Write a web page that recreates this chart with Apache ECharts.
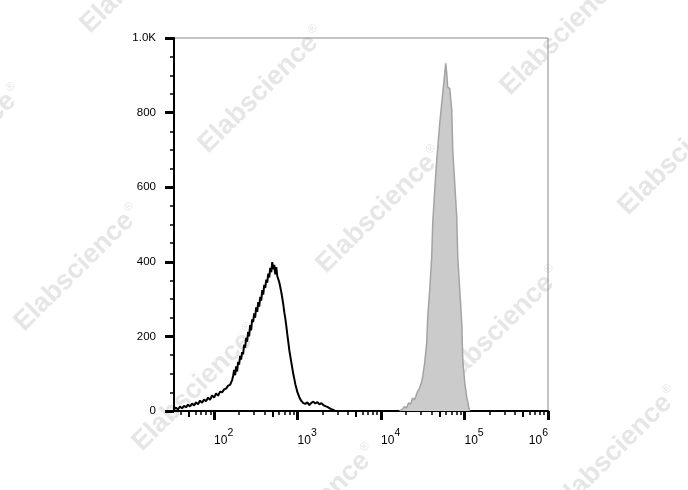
<!DOCTYPE html>
<html>
<head>
<meta charset="utf-8">
<script src="https://cdn.jsdelivr.net/npm/echarts@6/dist/echarts.min.js"></script>
<style>
html,body{margin:0;padding:0;background:#fff;}
#c{width:688px;height:490px;}
</style>
</head>
<body>
<div id="c"></div>
<script>
// ---- Data (x in log10 fluorescence units, y = cell counts) ----
var negLogFL = [1.520,1.544,1.568,1.592,1.616,1.640,1.664,1.688,1.712,1.736,1.760,1.784,1.808,1.832,1.856,1.880,1.904,1.928,1.952,1.976,2.000,2.024,2.048,2.072,2.096,2.120,2.144,2.168,2.192,2.216,
2.228,2.240,2.252,2.264,2.276,2.288,2.300,2.312,2.324,2.336,2.348,2.360,2.372,2.384,2.396,2.408,2.420,2.432,2.444,2.456,2.468,2.480,2.492,2.504,2.517,2.529,2.541,2.553,2.565,2.577,2.589,2.601,2.613,2.625,2.637,2.649,2.661,2.673,2.685,2.697,2.709,2.721,2.733,2.745,2.757,2.769,2.781,2.793,2.805,2.817,2.829,2.841,2.853,2.865,2.877,2.889,2.901,2.913,2.925,2.937,2.949,2.961,2.973,2.985,2.997,
3.021,3.045,3.069,3.093,3.117,3.141,3.165,3.189,3.213,3.237,3.261,3.285,3.309,3.333,3.357,3.381,3.405,3.429,3.453];
var negCounts = [5,9,4,12,7,14,10,17,12,20,15,23,18,28,22,31,26,36,30,42,36,47,41,52,50,58,60,68,70,83,
94,110,96,120,106,132,124,148,138,158,152,178,170,196,186,212,200,230,216,246,238,262,250,278,266,292,280,306,296,324,312,338,330,352,344,368,358,384,372,399,380,392,366,386,362,366,345,340,319,303,286,265,249,228,206,185,163,147,131,115,99,86,72,62,51,
37,27,21,19,23,16,22,25,20,24,18,21,16,13,11,8,5,3,0];

var posLogFL = [4.222,4.258,4.282,4.306,4.330,4.354,4.378,4.402,4.438,4.462,4.486,4.498,4.522,4.547,4.559,4.583,4.607,4.619,4.643,4.667,4.703,4.727,4.751,4.775,4.787,4.799,4.823,4.847,4.859,4.883,4.907,4.919,4.943,4.967,4.979,5.003,5.027,5.051,5.063];
var posCounts = [0,5,12,8,22,18,35,30,52,62,78,91,128,182,252,324,412,503,592,672,771,825,878,932,905,868,865,806,699,610,519,412,324,236,137,75,37,10,0];

var xMajorDecades = [2,3,4,5,6];
var yTicks = [0,200,400,600,800,1000];
var yTickLabels = ['0','200','400','600','800','1.0K'];

// ---- build ----
function pairs(xs, ys){ var out=[]; for (var i=0;i<xs.length;i++) out.push([xs[i], ys[i]]); return out; }
var xMin = 1.52, xMax = 6;
var minorTicks = [], fiveTicks = [];
for (var d=1; d<6; d++) {
  for (var k=2; k<=9; k++) {
    var v = d + Math.log10(k);
    if (v <= xMin || v >= xMax) continue;
    if (k === 5) fiveTicks.push(v); else minorTicks.push(v);
  }
}
var FONT = 'Liberation Sans, Arial, sans-serif';

// watermark lattice (decoration)
var wm = [];
for (var i=-3;i<=5;i++){
  for (var j=-3;j<=3;j++){
    var cx = 262 + i*118 + j*184, cy = 90 + i*120 - j*178;
    if (cx < -130 || cx > 820 || cy < -130 || cy > 620) continue;
    wm.push({
      type:'text', x:cx, y:cy, rotation: 0.78, z: -10, silent:true,
      style:{ text:'{a|Elabscience}{r|®}', align:'center', verticalAlign:'middle',
        rich:{ a:{fontSize:27, fontWeight:'bold', fontFamily:FONT, fill:'#e6e6e6', color:'#e6e6e6'},
               r:{fontSize:12, fontFamily:FONT, fill:'#e6e6e6', color:'#e6e6e6', verticalAlign:'top', padding:[0,0,14,2]} },
        fill:'#e6e6e6' }
    });
  }
}

var chart = echarts.init(document.getElementById('c'), null, {renderer:'canvas'});
var baseX = {type:'value', min:xMin, max:xMax, position:'bottom', gridIndex:0, splitLine:{show:false}};
chart.setOption({
  animation:false,
  backgroundColor:'#ffffff',
  graphic: wm,
  grid:{left:174, right:140, top:38, bottom:79, show:true, borderColor:'#8a8a8a', borderWidth:1, backgroundColor:'transparent'},
  xAxis:[
    Object.assign({}, baseX, {
      axisLine:{show:true, lineStyle:{color:'#000', width:2}},
      axisTick:{show:true, customValues:xMajorDecades, length:9, lineStyle:{color:'#000', width:3}},
      axisLabel:{show:true, customValues:xMajorDecades, align:'left', alignMaxLabel:'right', margin:17,
        formatter:function(v){ return '{b|10}{s|' + Math.round(v) + '}'; },
        rich:{ b:{fontSize:12, fontFamily:FONT, color:'#000', verticalAlign:'bottom'},
               s:{fontSize:10.5, fontFamily:FONT, color:'#000', verticalAlign:'top', padding:[0,0,8,0]} } }
    }),
    Object.assign({}, baseX, {
      axisLine:{show:false},
      axisTick:{show:true, customValues:minorTicks, length:4, lineStyle:{color:'#000', width:1.5}},
      axisLabel:{show:false}
    }),
    Object.assign({}, baseX, {
      axisLine:{show:false},
      axisTick:{show:true, customValues:fiveTicks, length:6, lineStyle:{color:'#000', width:2}},
      axisLabel:{show:false}
    })
  ],
  yAxis:{
    type:'value', min:0, max:1000, interval:200,
    splitLine:{show:false},
    axisLine:{show:true, lineStyle:{color:'#000', width:2}},
    axisTick:{show:true, length:9, lineStyle:{color:'#000', width:3}},
    minorTick:{show:true, splitNumber:4, length:4, lineStyle:{color:'#000', width:1.5}},
    axisLabel:{margin:18, fontSize:11.5, fontFamily:FONT, color:'#000',
      formatter:function(v){ var idx = yTicks.indexOf(v); return idx>=0 ? yTickLabels[idx] : ''; }}
  },
  series:[
    { type:'line', xAxisIndex:0, data:pairs(posLogFL, posCounts), showSymbol:false, symbol:'none',
      lineStyle:{color:'#a3a3a3', width:1.5}, areaStyle:{color:'#cbcbcb', opacity:1}, z:2 },
    { type:'line', xAxisIndex:0, data:pairs(negLogFL, negCounts), showSymbol:false, symbol:'none',
      lineStyle:{color:'#000', width:2}, z:3 }
  ]
});
</script>
</body>
</html>
